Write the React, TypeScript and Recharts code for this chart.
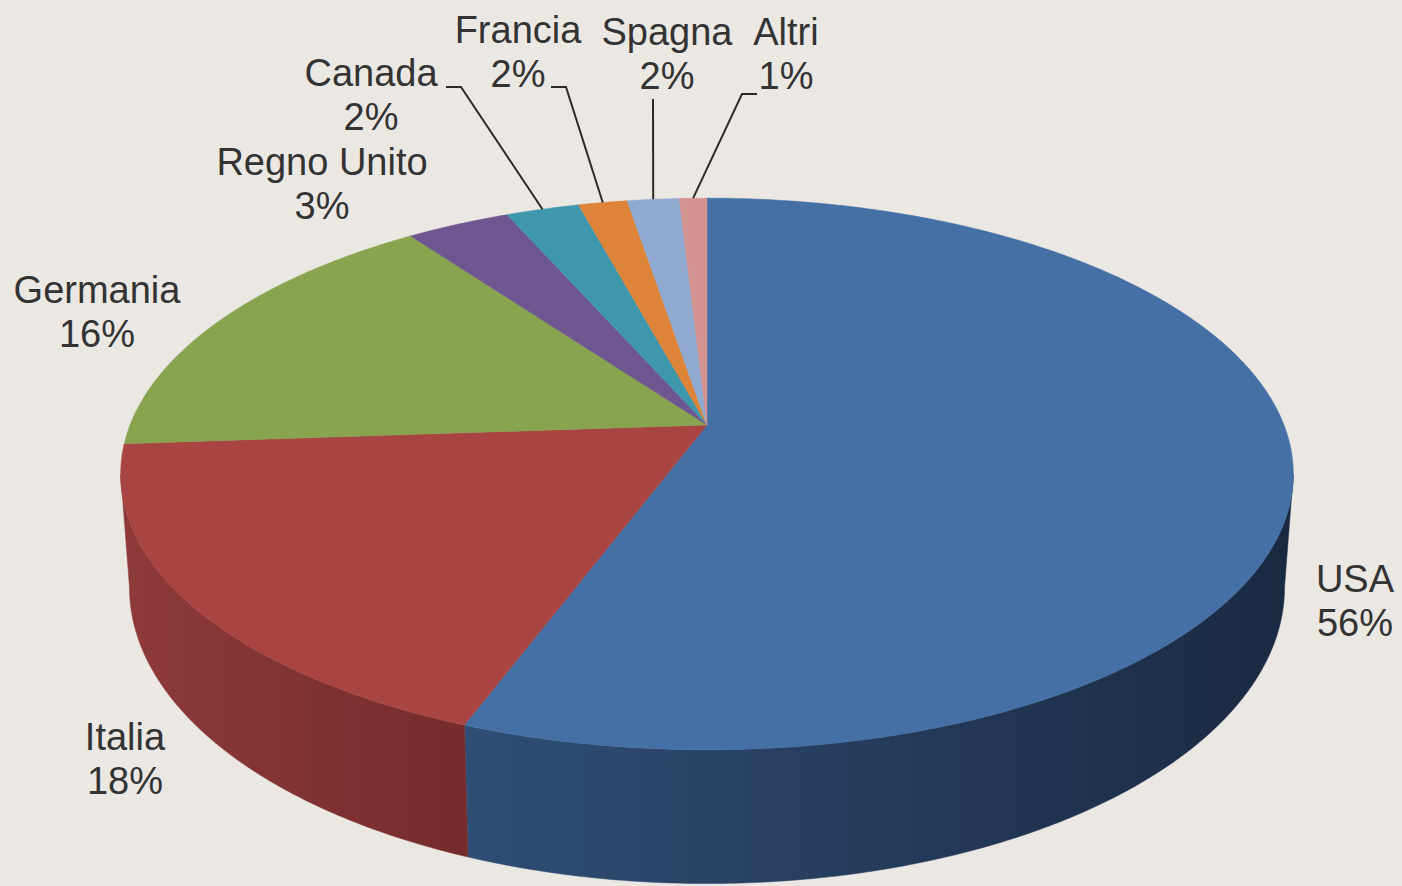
import React from "react";
import { PieChart, Pie, Cell } from "recharts";

const NAMES = ["USA", "Italia", "Germania", "Regno Unito", "Canada", "Francia", "Spagna", "Altri"];
const SHARES = [55.7, 18.2, 16.1, 3.4, 2.4, 1.6, 1.7, 0.9];

const TOP_COLORS = ["#4470a5", "#a84442", "#88a44f", "#6e5690", "#3e97ac", "#dd8438", "#90a9d0", "#d29290"];
const SIDE_LIGHT = ["#2f4e75", "#8e3a39", "#6b823c", "#55426f", "#2f7686", "#ac662a", "#6f84a3", "#a47170"];
const SIDE_DARK = ["#1a2942", "#752b2b", "#55682f", "#433457", "#245d69", "#8a5121", "#586982", "#835958"];

// label placement (text centre x, first-line baseline y, leader elbow points)
const LABEL_LAYOUT: Record<string, { x: number; y: number; elbow?: number[][] }> = {
  USA: { x: 1355, y: 592 },
  Italia: { x: 125, y: 750 },
  Germania: { x: 97, y: 303 },
  "Regno Unito": { x: 322, y: 175 },
  Canada: { x: 371, y: 86, elbow: [[446, 87], [461, 87]] },
  Francia: { x: 518, y: 43, elbow: [[551, 87], [566, 87]] },
  Spagna: { x: 667, y: 45, elbow: [[653, 99]] },
  Altri: { x: 786, y: 45, elbow: [[757, 94], [742, 94]] },
};

const data = NAMES.map((name, i) => ({ name, value: SHARES[i] }));

// fake perspective for the tilted disc
const K = 0.1775;
const FLAT = 0.463;
const DEPTH = 110;
const BOTTOM_SHRINK = 0.985;
const FRONT_HI = -Math.asin(K) * 180 / Math.PI;
const FRONT_LO = -180 - FRONT_HI;

function project(cx: number, cy: number, r: number, deg: number, lower = false) {
  const a = (deg * Math.PI) / 180;
  const u = Math.cos(a);
  const v = -Math.sin(a);
  const den = 1 - K * v;
  let x = cx + (r * u) / den;
  const y = cy + (r * FLAT * v + (lower ? DEPTH : 0)) / den;
  if (lower) x = cx + (x - cx) * BOTTOM_SHRINK;
  return [x, y];
}

function arcPoints(cx: number, cy: number, r: number, from: number, to: number, lower = false) {
  const n = Math.max(2, Math.ceil(Math.abs(from - to) / 0.5));
  const pts: number[][] = [];
  for (let i = 0; i <= n; i++) {
    pts.push(project(cx, cy, r, from + ((to - from) * i) / n, lower));
  }
  return pts;
}

function Slice3D(props: any) {
  const { cx, cy, outerRadius, startAngle, endAngle } = props;
  const idx = NAMES.indexOf(props.name ?? props.payload?.name);
  const top = TOP_COLORS[idx];
  const hi = Math.min(startAngle, FRONT_HI);
  const lo = Math.max(endAngle, FRONT_LO);
  let side = null;
  if (hi > lo) {
    const up = arcPoints(cx, cy, outerRadius, hi, lo);
    const down = arcPoints(cx, cy, outerRadius, lo, hi, true);
    const d = "M" + [...up, ...down].map((p) => p.join(",")).join("L") + "Z";
    side = (
      <g>
        <defs>
          <linearGradient id={`side-${idx}`} x1="0" y1="0" x2="1" y2="0">
            <stop offset="0%" stopColor={SIDE_LIGHT[idx]} />
            <stop offset="100%" stopColor={SIDE_DARK[idx]} />
          </linearGradient>
        </defs>
        <path d={d} fill={`url(#side-${idx})`} stroke={`url(#side-${idx})`} strokeWidth={0.5} />
      </g>
    );
  }
  const face = arcPoints(cx, cy, outerRadius, startAngle, endAngle);
  const faceD = `M${cx},${cy}L` + face.map((p) => p.join(",")).join("L") + "Z";
  return (
    <g>
      {side}
      <path d={faceD} fill={top} stroke={top} strokeWidth={0.5} />
    </g>
  );
}

function renderLabel(props: any) {
  const { cx, cy, outerRadius, midAngle, name, percent } = props;
  const lay = LABEL_LAYOUT[name];
  if (!lay) return null;
  let leader = null;
  if (lay.elbow) {
    const edge = project(cx, cy, outerRadius, midAngle);
    const pts = [...lay.elbow, edge];
    leader = (
      <polyline
        points={pts.map((p) => p.join(",")).join(" ")}
        fill="none"
        stroke="#2b2b2b"
        strokeWidth={2}
      />
    );
  }
  return (
    <g>
      {leader}
      <text
        x={lay.x}
        y={lay.y}
        textAnchor="middle"
        fill="#333333"
        fontSize={38}
        fontFamily="'Liberation Sans', Arial, sans-serif"
      >
        {name}
      </text>
      <text
        x={lay.x}
        y={lay.y + 44}
        textAnchor="middle"
        fill="#333333"
        fontSize={38}
        fontFamily="'Liberation Sans', Arial, sans-serif"
      >
        {`${Math.round(percent * 100)}%`}
      </text>
    </g>
  );
}

export default function App() {
  return (
    <div
      style={{
        position: "fixed",
        top: 0,
        left: 0,
        width: 1402,
        height: 886,
        background: "#ebe8e4",
      }}
    >
      <PieChart width={1402} height={886} margin={{ top: 0, right: 0, bottom: 0, left: 0 }}>
        <Pie
          data={data}
          dataKey="value"
          nameKey="name"
          cx={707}
          cy={425}
          outerRadius={577}
          startAngle={90}
          endAngle={-270}
          stroke="none"
          shape={Slice3D}
          label={renderLabel}
          labelLine={false}
          isAnimationActive={false}
        >
          {data.map((d, i) => (
            <Cell key={d.name} fill={TOP_COLORS[i]} />
          ))}
        </Pie>
      </PieChart>
    </div>
  );
}
